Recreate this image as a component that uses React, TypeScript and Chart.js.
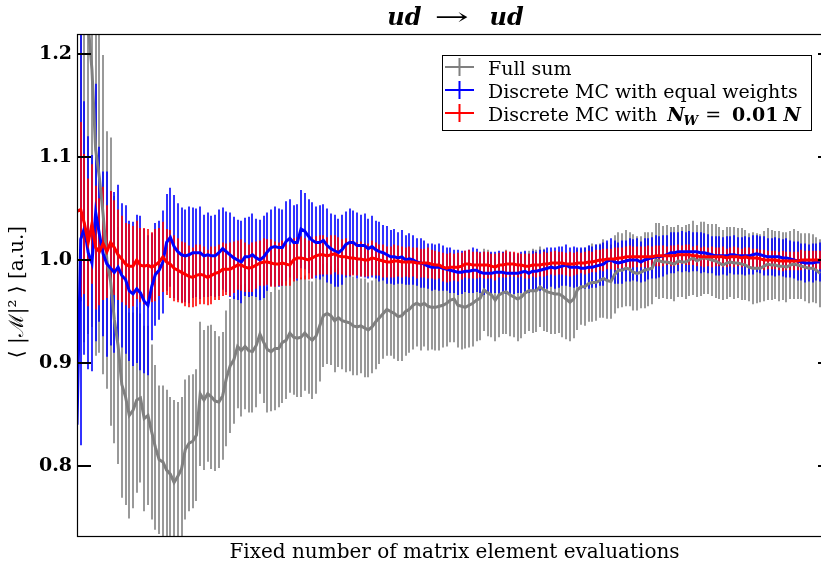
import React, { useEffect, useRef } from "react";
import { Chart, registerables } from "chart.js";

Chart.register(...registerables);

// Mean |M|^2 estimates after each batch of matrix-element evaluations, with 1-sigma errors.
const fullSum = [
  1.45, 1.38, 1.30, 1.228, 1.185, 1.107, 1.080, 1.044, 1.000, 0.979,
  0.942, 0.917, 0.879, 0.867, 0.849, 0.854, 0.864, 0.866, 0.846, 0.849,
  0.833, 0.818, 0.806, 0.804, 0.796, 0.792, 0.784, 0.790, 0.797, 0.816,
  0.822, 0.824, 0.830, 0.870, 0.864, 0.870, 0.867, 0.863, 0.862, 0.868,
  0.885, 0.897, 0.903, 0.916, 0.912, 0.916, 0.912, 0.911, 0.917, 0.928,
  0.920, 0.913, 0.911, 0.914, 0.914, 0.920, 0.922, 0.929, 0.925, 0.924,
  0.925, 0.929, 0.925, 0.922, 0.926, 0.936, 0.946, 0.948, 0.946, 0.941,
  0.944, 0.941, 0.940, 0.939, 0.936, 0.935, 0.936, 0.934, 0.932, 0.935,
  0.940, 0.944, 0.948, 0.952, 0.950, 0.948, 0.945, 0.946, 0.950, 0.952,
  0.956, 0.958, 0.956, 0.958, 0.955, 0.954, 0.954, 0.955, 0.956, 0.958,
  0.961, 0.962, 0.956, 0.955, 0.954, 0.956, 0.958, 0.961, 0.963, 0.971,
  0.968, 0.966, 0.961, 0.966, 0.968, 0.969, 0.966, 0.964, 0.962, 0.964,
  0.968, 0.970, 0.970, 0.970, 0.974, 0.971, 0.969, 0.968, 0.967, 0.967,
  0.965, 0.962, 0.959, 0.962, 0.971, 0.974, 0.974, 0.977, 0.978, 0.978,
  0.980, 0.982, 0.980, 0.979, 0.986, 0.990, 0.990, 0.992, 0.991, 0.988,
  0.987, 0.988, 0.990, 0.991, 0.992, 1.000, 0.999, 0.998, 0.998, 0.997,
  0.996, 0.999, 0.998, 0.998, 1.000, 1.002, 0.999, 1.001, 1.002, 1.001,
  1.000, 0.999, 0.997, 0.995, 0.997, 0.998, 0.997, 0.997, 0.996, 0.995,
  0.993, 0.992, 0.992, 0.992, 0.994, 0.996, 0.995, 0.995, 0.994, 0.994,
  0.993, 0.995, 0.996, 0.995, 0.994, 0.993, 0.992, 0.992, 0.990, 0.987,
];

const fullSumErr = [
  0.40, 0.42, 0.38, 0.30, 0.25, 0.20, 0.17, 0.155, 0.125, 0.14,
  0.12, 0.115, 0.11, 0.105, 0.10, 0.095, 0.09, 0.082, 0.09, 0.087,
  0.085, 0.08, 0.072, 0.074, 0.078, 0.075, 0.08, 0.072, 0.07, 0.068,
  0.066, 0.065, 0.064, 0.07, 0.068, 0.066, 0.07, 0.068, 0.064, 0.062,
  0.066, 0.065, 0.062, 0.06, 0.064, 0.061, 0.06, 0.059, 0.06, 0.058,
  0.059, 0.061, 0.058, 0.06, 0.057, 0.059, 0.057, 0.058, 0.056, 0.057,
  0.058, 0.056, 0.055, 0.057, 0.056, 0.054, 0.05, 0.049, 0.048, 0.05,
  0.048, 0.047, 0.049, 0.047, 0.048, 0.047, 0.046, 0.048, 0.046, 0.045,
  0.046, 0.045, 0.044, 0.045, 0.043, 0.044, 0.043, 0.044, 0.043, 0.042,
  0.043, 0.042, 0.044, 0.042, 0.043, 0.041, 0.042, 0.043, 0.041, 0.042,
  0.041, 0.042, 0.041, 0.042, 0.04, 0.041, 0.042, 0.04, 0.041, 0.04,
  0.042, 0.041, 0.04, 0.041, 0.04, 0.041, 0.04, 0.039, 0.041, 0.04,
  0.04, 0.039, 0.041, 0.04, 0.039, 0.04, 0.039, 0.04, 0.039, 0.038,
  0.04, 0.039, 0.038, 0.038, 0.039, 0.037, 0.038, 0.037, 0.038, 0.037,
  0.036, 0.038, 0.037, 0.036, 0.038, 0.037, 0.036, 0.037, 0.036, 0.037,
  0.036, 0.035, 0.037, 0.036, 0.035, 0.036, 0.037, 0.035, 0.036, 0.035,
  0.036, 0.035, 0.034, 0.036, 0.035, 0.036, 0.035, 0.036, 0.035, 0.034,
  0.035, 0.036, 0.035, 0.034, 0.035, 0.034, 0.035, 0.034, 0.035, 0.034,
  0.033, 0.035, 0.034, 0.033, 0.034, 0.035, 0.034, 0.033, 0.034, 0.033,
  0.034, 0.033, 0.034, 0.033, 0.032, 0.033, 0.034, 0.033, 0.032, 0.033,
];

const equalWeights = [
  0.84, 1.02, 1.031, 1.007, 0.997, 1.046, 1.025, 1.006, 0.996, 0.992,
  0.988, 0.993, 0.985, 0.981, 0.970, 0.967, 0.972, 0.968, 0.960, 0.956,
  0.974, 0.986, 0.990, 0.998, 1.017, 1.022, 1.013, 1.008, 1.005, 1.004,
  1.005, 1.007, 1.007, 1.007, 1.004, 1.005, 1.004, 1.004, 1.007, 1.011,
  1.008, 1.005, 1.002, 1.000, 0.998, 1.003, 1.003, 1.005, 1.002, 1.000,
  1.003, 1.008, 1.012, 1.013, 1.012, 1.012, 1.018, 1.021, 1.017, 1.017,
  1.030, 1.028, 1.023, 1.019, 1.017, 1.017, 1.019, 1.014, 1.011, 1.009,
  1.007, 1.010, 1.015, 1.017, 1.017, 1.014, 1.014, 1.014, 1.011, 1.013,
  1.010, 1.008, 1.007, 1.005, 1.003, 1.003, 1.002, 1.003, 1.000, 1.001,
  1.000, 0.998, 0.997, 0.996, 0.994, 0.993, 0.993, 0.993, 0.992, 0.991,
  0.990, 0.989, 0.988, 0.988, 0.989, 0.989, 0.990, 0.990, 0.988, 0.987,
  0.987, 0.987, 0.988, 0.988, 0.988, 0.987, 0.987, 0.987, 0.987, 0.988,
  0.989, 0.987, 0.989, 0.989, 0.990, 0.991, 0.992, 0.993, 0.992, 0.993,
  0.994, 0.995, 0.993, 0.993, 0.993, 0.992, 0.992, 0.993, 0.993, 0.994,
  0.995, 0.996, 0.999, 1.000, 0.998, 0.997, 0.998, 0.999, 1.000, 1.000,
  1.000, 0.998, 1.000, 1.001, 1.002, 1.003, 1.003, 1.004, 1.005, 1.007,
  1.007, 1.008, 1.008, 1.008, 1.008, 1.008, 1.008, 1.007, 1.007, 1.006,
  1.005, 1.004, 1.004, 1.004, 1.004, 1.005, 1.005, 1.004, 1.004, 1.004,
  1.004, 1.005, 1.006, 1.005, 1.004, 1.003, 1.003, 1.003, 1.003, 1.002,
  1.002, 1.001, 1.000, 0.999, 0.998, 0.997, 0.997, 0.997, 0.998, 0.998,
];

const equalWeightsErr = [
  0.13, 0.20, 0.123, 0.113, 0.105, 0.125, 0.085, 0.08, 0.09, 0.075,
  0.078, 0.08, 0.07, 0.072, 0.068, 0.07, 0.072, 0.075, 0.07, 0.068,
  0.052, 0.05, 0.048, 0.05, 0.047, 0.048, 0.05, 0.047, 0.046, 0.045,
  0.047, 0.044, 0.043, 0.045, 0.04, 0.041, 0.039, 0.04, 0.042, 0.04,
  0.039, 0.041, 0.04, 0.039, 0.04, 0.038, 0.039, 0.04, 0.038, 0.039,
  0.04, 0.038, 0.037, 0.039, 0.038, 0.037, 0.039, 0.038, 0.036, 0.037,
  0.038, 0.037, 0.036, 0.037, 0.035, 0.036, 0.035, 0.036, 0.034, 0.035,
  0.033, 0.034, 0.032, 0.033, 0.031, 0.032, 0.03, 0.031, 0.029, 0.03,
  0.028, 0.029, 0.027, 0.028, 0.026, 0.027, 0.025, 0.026, 0.024, 0.025,
  0.024, 0.023, 0.024, 0.023, 0.022, 0.023, 0.022, 0.023, 0.022, 0.021,
  0.022, 0.021, 0.022, 0.021, 0.02, 0.021, 0.022, 0.021, 0.02, 0.021,
  0.02, 0.021, 0.02, 0.021, 0.02, 0.02, 0.021, 0.02, 0.019, 0.02,
  0.02, 0.019, 0.02, 0.019, 0.02, 0.019, 0.02, 0.019, 0.02, 0.02,
  0.019, 0.02, 0.019, 0.02, 0.019, 0.02, 0.02, 0.021, 0.02, 0.021,
  0.02, 0.021, 0.02, 0.021, 0.021, 0.02, 0.021, 0.02, 0.021, 0.02,
  0.021, 0.02, 0.021, 0.02, 0.02, 0.021, 0.02, 0.02, 0.019, 0.02,
  0.02, 0.019, 0.02, 0.019, 0.02, 0.019, 0.019, 0.02, 0.019, 0.019,
  0.018, 0.019, 0.019, 0.018, 0.019, 0.018, 0.019, 0.018, 0.018, 0.019,
  0.018, 0.019, 0.018, 0.018, 0.019, 0.018, 0.018, 0.019, 0.018, 0.018,
  0.019, 0.018, 0.018, 0.019, 0.018, 0.019, 0.018, 0.019, 0.018, 0.019,
];

const weightedOnePercent = [
  1.047, 1.049, 1.035, 1.017, 1.035, 1.012, 1.008, 1.016, 1.008, 1.017,
  1.012, 1.005, 1.001, 0.996, 0.994, 0.994, 1.000, 0.995, 0.994, 0.995,
  0.993, 0.995, 0.998, 1.003, 0.998, 0.996, 0.992, 0.990, 0.988, 0.986,
  0.984, 0.983, 0.985, 0.986, 0.985, 0.983, 0.985, 0.987, 0.988, 0.991,
  0.991, 0.991, 0.993, 0.995, 0.995, 0.993, 0.992, 0.993, 0.995, 0.997,
  0.998, 0.998, 0.997, 0.996, 0.996, 0.997, 0.996, 0.995, 1.000, 1.002,
  1.002, 1.001, 1.000, 1.002, 1.004, 1.005, 1.005, 1.004, 1.005, 1.006,
  1.004, 1.003, 1.003, 1.002, 1.002, 1.001, 1.001, 1.000, 1.000, 1.002,
  1.001, 1.000, 0.999, 0.998, 0.998, 0.999, 0.999, 0.998, 0.998, 0.998,
  0.998, 0.997, 0.997, 0.997, 0.997, 0.996, 0.995, 0.995, 0.993, 0.992,
  0.993, 0.993, 0.993, 0.994, 0.996, 0.996, 0.995, 0.995, 0.995, 0.995,
  0.995, 0.994, 0.993, 0.995, 0.995, 0.996, 0.996, 0.996, 0.995, 0.995,
  0.994, 0.994, 0.995, 0.995, 0.995, 0.996, 0.996, 0.997, 0.997, 0.997,
  0.997, 0.996, 0.996, 0.996, 0.997, 0.997, 0.997, 0.998, 0.998, 0.999,
  1.000, 1.000, 1.001, 1.001, 1.001, 1.002, 1.002, 1.003, 1.003, 1.003,
  1.003, 1.003, 1.003, 1.003, 1.003, 1.004, 1.004, 1.004, 1.004, 1.004,
  1.004, 1.005, 1.005, 1.005, 1.005, 1.004, 1.004, 1.003, 1.003, 1.003,
  1.003, 1.003, 1.003, 1.003, 1.002, 1.003, 1.003, 1.003, 1.002, 1.003,
  1.002, 1.002, 1.002, 1.001, 1.000, 1.000, 1.000, 1.000, 0.999, 0.999,
  0.999, 0.999, 0.999, 0.999, 1.000, 1.000, 1.000, 1.000, 1.000, 1.000,
];

const weightedOnePercentErr = [
  0.075, 0.085, 0.068, 0.062, 0.058, 0.06, 0.052, 0.055, 0.045, 0.05,
  0.046, 0.044, 0.042, 0.04, 0.041, 0.039, 0.038, 0.036, 0.037, 0.035,
  0.034, 0.035, 0.033, 0.034, 0.032, 0.033, 0.032, 0.031, 0.03, 0.031,
  0.03, 0.029, 0.03, 0.029, 0.028, 0.027, 0.028, 0.026, 0.027, 0.026,
  0.025, 0.026, 0.025, 0.024, 0.025, 0.024, 0.023, 0.024, 0.023, 0.022,
  0.023, 0.022, 0.023, 0.022, 0.021, 0.022, 0.021, 0.02, 0.021, 0.02,
  0.021, 0.02, 0.019, 0.02, 0.019, 0.019, 0.019, 0.018, 0.019, 0.018,
  0.018, 0.017, 0.018, 0.017, 0.017, 0.016, 0.017, 0.016, 0.016, 0.017,
  0.016, 0.015, 0.016, 0.015, 0.015, 0.016, 0.015, 0.015, 0.014, 0.015,
  0.014, 0.015, 0.014, 0.014, 0.015, 0.014, 0.014, 0.013, 0.014, 0.014,
  0.014, 0.013, 0.014, 0.013, 0.013, 0.014, 0.013, 0.013, 0.012, 0.013,
  0.013, 0.012, 0.013, 0.012, 0.012, 0.013, 0.012, 0.012, 0.012, 0.011,
  0.012, 0.012, 0.011, 0.012, 0.011, 0.012, 0.011, 0.011, 0.012, 0.011,
  0.011, 0.011, 0.012, 0.011, 0.011, 0.01, 0.011, 0.011, 0.01, 0.011,
  0.01, 0.011, 0.01, 0.01, 0.011, 0.01, 0.01, 0.01, 0.011, 0.01,
  0.01, 0.01, 0.01, 0.011, 0.01, 0.01, 0.01, 0.01, 0.009, 0.01,
  0.01, 0.01, 0.009, 0.01, 0.01, 0.009, 0.01, 0.009, 0.01, 0.009,
  0.01, 0.009, 0.009, 0.01, 0.009, 0.009, 0.01, 0.009, 0.009, 0.009,
  0.01, 0.009, 0.009, 0.009, 0.01, 0.009, 0.009, 0.009, 0.009, 0.01,
  0.009, 0.009, 0.009, 0.009, 0.01, 0.009, 0.009, 0.009, 0.009, 0.009,
];

const yTicks = [0.8, 0.9, 1.0, 1.1, 1.2];
const legendLabels = ["Full sum", "Discrete MC with equal weights", "Discrete MC with "];
const titleParts = ["ud", "\u2192", "ud"];
const xAxisTitle = "Fixed number of matrix element evaluations";
const yAxisTitle = "\u27E8 |\u2133|\u00B2 \u27E9 [a.u.]";

// Position of each estimate along the (unlabelled) evaluation axis.
const evaluationSteps = fullSum.map((_, i) => i);

const SERIF = "'DejaVu Serif', serif";

const series = [
  { label: legendLabels[0], values: fullSum, errors: fullSumErr, line: "#808080", bar: "rgba(128,128,128,0.8)", order: 3 },
  { label: legendLabels[1], values: equalWeights, errors: equalWeightsErr, line: "#0000ff", bar: "rgba(0,0,255,0.8)", order: 2 },
  { label: legendLabels[2], values: weightedOnePercent, errors: weightedOnePercentErr, line: "#ff0000", bar: "rgba(255,0,0,0.8)", order: 1 },
];

// Vertical error bars, drawn underneath every mean line.
const errorBarPlugin = {
  id: "errorBars",
  beforeDatasetsDraw(chart: any) {
    const { ctx, chartArea, scales } = chart;
    ctx.save();
    ctx.beginPath();
    ctx.rect(chartArea.left, chartArea.top, chartArea.right - chartArea.left, chartArea.bottom - chartArea.top);
    ctx.clip();
    ctx.lineWidth = 2;
    ctx.lineCap = "butt";
    for (const s of series) {
      ctx.strokeStyle = s.bar;
      s.values.forEach((v, i) => {
        const x = Math.round(scales.x.getPixelForValue(evaluationSteps[i]));
        const yTop = scales.y.getPixelForValue(v + s.errors[i]);
        const yBot = scales.y.getPixelForValue(v - s.errors[i]);
        ctx.beginPath();
        ctx.moveTo(x, yTop);
        ctx.lineTo(x, yBot);
        ctx.stroke();
      });
    }
    ctx.restore();
  },
};

// Frame, inward ticks, titles and the legend box.
const decorPlugin = {
  id: "decor",
  afterDraw(chart: any) {
    const { ctx, chartArea, scales } = chart;
    const { left, right, top, bottom } = chartArea;
    ctx.save();

    ctx.strokeStyle = "#000";
    ctx.lineWidth = 1.2;
    ctx.strokeRect(left + 0.5, top + 0.5, right - left - 1, bottom - top - 1);

    ctx.lineWidth = 2;
    for (const t of yTicks) {
      const y = Math.round(scales.y.getPixelForValue(t));
      ctx.beginPath();
      ctx.moveTo(left, y);
      ctx.lineTo(left + 14, y);
      ctx.moveTo(right - 14, y);
      ctx.lineTo(right, y);
      ctx.stroke();
    }

    const cx = (left + right) / 2;
    ctx.fillStyle = "#000";
    ctx.textBaseline = "alphabetic";

    // Title
    ctx.font = `italic bold 24px ${SERIF}`;
    ctx.textAlign = "right";
    ctx.fillText(titleParts[0], cx - 33, 25);
    ctx.textAlign = "left";
    ctx.fillText(titleParts[2], cx + 35, 25);
    ctx.font = `24px ${SERIF}`;
    ctx.textAlign = "center";
    ctx.save();
    ctx.translate(cx - 3, 0);
    ctx.scale(1.7, 1);
    ctx.fillText(titleParts[1], 0, 25);
    ctx.restore();

    // X axis title
    ctx.font = `20px ${SERIF}`;
    ctx.textAlign = "center";
    ctx.fillText(xAxisTitle, cx, 558);

    // Y axis title
    ctx.save();
    ctx.translate(23, 292);
    ctx.rotate(-Math.PI / 2);
    ctx.font = `20px ${SERIF}`;
    ctx.textAlign = "center";
    ctx.fillText(yAxisTitle, 0, 0);
    ctx.restore();

    // Legend
    const lx = 442, ly = 55, lw = 369, lh = 75;
    ctx.fillStyle = "#fff";
    ctx.fillRect(lx, ly, lw, lh);
    ctx.strokeStyle = "#000";
    ctx.lineWidth = 1;
    ctx.strokeRect(lx + 0.5, ly + 0.5, lw, lh);
    const rows = [67, 90, 113];
    const legendFont = `19px ${SERIF}`;
    series.forEach((s, k) => {
      const yc = rows[k];
      ctx.strokeStyle = s.line;
      ctx.lineWidth = 2;
      ctx.beginPath();
      ctx.moveTo(445, yc);
      ctx.lineTo(474, yc);
      ctx.moveTo(459.5, yc - 9);
      ctx.lineTo(459.5, yc + 9);
      ctx.stroke();
      ctx.fillStyle = "#000";
      ctx.textAlign = "left";
      ctx.font = legendFont;
      ctx.fillText(s.label, 488, yc + 8);
    });
    // Third entry continues with the weight-fraction formula
    {
      const yb = rows[2] + 8;
      ctx.font = legendFont;
      let x = 488 + ctx.measureText(legendLabels[2]).width + 4;
      ctx.font = `italic bold 19px ${SERIF}`;
      ctx.fillText("N", x, yb);
      x += ctx.measureText("N").width - 1;
      ctx.font = `italic bold 13px ${SERIF}`;
      ctx.fillText("W", x, yb + 4);
      x += ctx.measureText("W").width + 7;
      ctx.font = legendFont;
      ctx.fillText("=", x, yb);
      x += ctx.measureText("=").width + 11;
      ctx.font = `bold 19px ${SERIF}`;
      ctx.fillText("0.01", x, yb);
      x += ctx.measureText("0.01").width + 5;
      ctx.font = `italic bold 19px ${SERIF}`;
      ctx.fillText("N", x, yb);
    }

    ctx.restore();
  },
};

export default function App() {
  const canvasRef = useRef<HTMLCanvasElement | null>(null);

  useEffect(() => {
    const canvas = canvasRef.current;
    if (!canvas) return;
    const chart = new Chart(canvas, {
      type: "line",
      data: {
        datasets: series.map((s) => ({
          label: s.label,
          data: s.values.map((v, i) => ({ x: evaluationSteps[i], y: v })),
          borderColor: s.line,
          borderWidth: 3,
          pointRadius: 0,
          tension: 0,
          fill: false,
          order: s.order,
        })),
      },
      options: {
        responsive: false,
        animation: false,
        devicePixelRatio: 1,
        layout: { padding: { top: 34, bottom: 27, left: 0, right: 3 } },
        plugins: {
          legend: { display: false },
          tooltip: { enabled: false },
          title: { display: false },
        },
        scales: {
          x: { type: "linear", min: 0, max: 202.2, display: false },
          y: {
            type: "linear",
            min: 0.731,
            max: 1.2194,
            afterFit: (scale: any) => {
              scale.width = 77;
            },
            afterBuildTicks: (scale: any) => {
              scale.ticks = yTicks.map((v) => ({ value: v }));
            },
            grid: { display: false, drawTicks: false },
            border: { display: false },
            ticks: {
              padding: 5,
              color: "#000",
              font: { family: SERIF, size: 19, weight: "bold" },
              callback: (v: any) => Number(v).toFixed(1),
            },
          },
        },
      },
      plugins: [errorBarPlugin, decorPlugin],
    } as any);
    return () => chart.destroy();
  }, []);

  return (
    <div
      style={{
        position: "fixed",
        left: 0,
        top: 0,
        width: 821,
        height: 564,
        overflow: "hidden",
        background: "#fff",
      }}
    >
      <canvas ref={canvasRef} width={835} height={564} style={{ display: "block" }} />
    </div>
  );
}
